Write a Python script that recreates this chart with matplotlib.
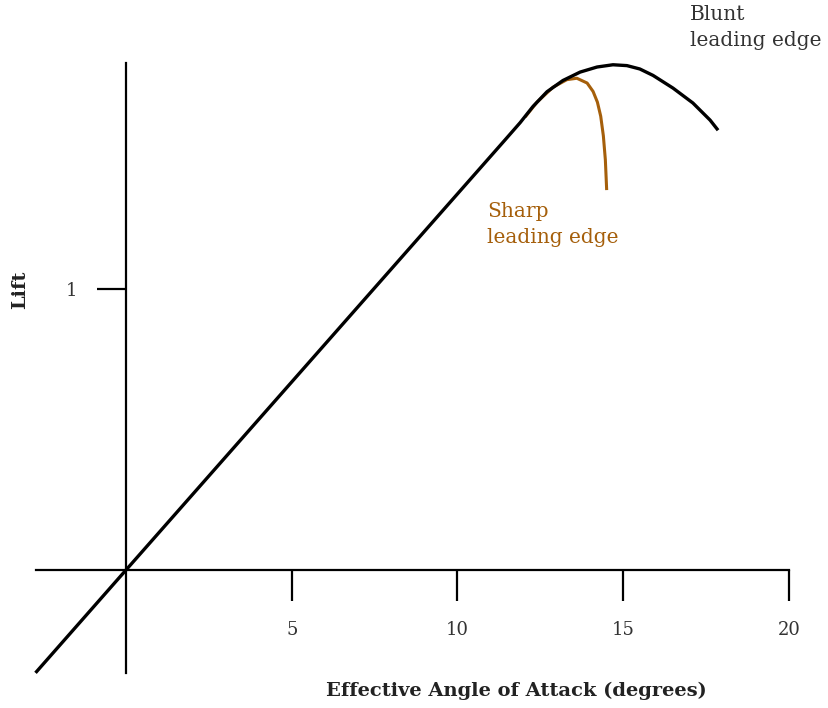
import numpy as np
import matplotlib.pyplot as plt

# lift curves (angle in degrees, lift)
blunt_x = [-2.73, 0.0, 11.43, 11.89, 12.28, 12.70, 13.18, 13.70, 14.21,
           14.69, 15.11, 15.50, 15.90, 16.50, 17.10, 17.62, 17.86]
blunt_y = [-0.366, 0.0, 1.530, 1.592, 1.650, 1.702, 1.742, 1.772, 1.790,
           1.798, 1.795, 1.783, 1.760, 1.715, 1.662, 1.601, 1.565]
sharp_x = [12.04, 12.40, 12.88, 13.30, 13.60, 13.91, 14.09, 14.22, 14.32, 14.40, 14.46, 14.50]
sharp_y = [1.612, 1.665, 1.718, 1.745, 1.750, 1.733, 1.703, 1.665, 1.615, 1.545, 1.460, 1.352]

xticks = [5, 10, 15, 20]
yticks = [1]

brown = '#a55f0b'
plt.rcParams['font.family'] = ['DejaVu Serif']

sx, x0 = 33.15, 126
sy, y0 = 281, 570

fig = plt.figure(figsize=(8.29, 7.08), dpi=100)
ax = fig.add_axes([0, 0, 1, 1])
ax.set_xlim(-x0/sx, (829-x0)/sx)
ax.set_ylim((y0-708)/sy, y0/sy)
ax.patch.set_alpha(0)

ax.plot(blunt_x, blunt_y, color='black', lw=2.4, solid_capstyle='butt',
        solid_joinstyle='round', zorder=3)
ax.plot(sharp_x, sharp_y, color=brown, lw=2.2, solid_capstyle='butt',
        solid_joinstyle='round', zorder=2)

for s in ['top', 'right']:
    ax.spines[s].set_visible(False)
ax.spines['left'].set_position(('data', 0))
ax.spines['bottom'].set_position(('data', 0))
ax.spines['left'].set_bounds((y0-673)/sy, (y0-63)/sy)
ax.spines['bottom'].set_bounds((36-x0)/sx, 20)
ax.spines['left'].set_linewidth(1.6)
ax.spines['bottom'].set_linewidth(1.6)

ax.set_xticks(xticks)
ax.set_xticklabels([str(t) for t in xticks])
ax.set_yticks(yticks)
ax.set_yticklabels([str(t) for t in yticks])
ax.tick_params(axis='x', direction='out', length=22, width=1.6, pad=15,
               labelsize=13, labelcolor='#333333')
ax.tick_params(axis='y', direction='out', length=21, width=1.6, pad=14,
               labelsize=13, labelcolor='#333333')

fig.text(516/829, 1-691/708, 'Effective Angle of Attack (degrees)', ha='center',
         va='center', fontsize=14, fontweight='bold', color='#222222')
fig.text(20/829, 1-290/708, 'Lift', ha='center', va='center', rotation=90,
         fontsize=14, fontweight='bold', color='#222222')

ax.text((690-x0)/sx, (y0-5)/sy, 'Blunt\nleading edge', ha='left', va='top',
        fontsize=14.5, color='#333333', linespacing=1.45)
ax.text((487-x0)/sx, (y0-202)/sy, 'Sharp\nleading edge', ha='left', va='top',
        fontsize=14.5, color=brown, linespacing=1.45)

fig.savefig('out.png', dpi=100)
